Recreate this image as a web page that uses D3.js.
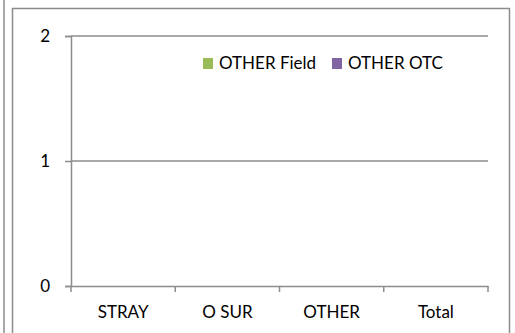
<!DOCTYPE html>
<html>
<head>
<meta charset="utf-8">
<script src="https://cdn.jsdelivr.net/npm/d3@7"></script>
<style>
	body { margin: 0; background: #fff; }
	svg text { font-family: Lato, "Liberation Sans", sans-serif; fill: #000; }
</style>
</head>
<body>
<script>
// chart data
var categories = ["STRAY", "O SUR", "OTHER", "Total"];
var seriesNames = ["OTHER Field", "OTHER OTC"];
var fieldValues = [0, 0, 0, 0];
var otcValues = [0, 0, 0, 0];
var yTicks = [0, 1, 2];

var colors = ["#9bbb59", "#8064a2"];

var svg = d3.select("body").append("svg")
	.attr("width", 515)
	.attr("height", 333);

// neighbour chart edge on the far left
svg.append("line")
	.attr("x1", 4).attr("x2", 4)
	.attr("y1", 0).attr("y2", 333)
	.attr("stroke", "#8c8c8c")
	.attr("stroke-width", 1.5);

// chart border
svg.append("rect")
	.attr("x", 12.5)
	.attr("y", 8.5)
	.attr("width", 497)
	.attr("height", 340)
	.attr("fill", "#fff")
	.attr("stroke", "#8c8c8c")
	.attr("stroke-width", 1.5);

var plot = {left: 71, right: 488, top: 36, bottom: 286};

var x = d3.scaleBand()
	.domain(categories)
	.range([plot.left, plot.right]);

var y = d3.scaleLinear()
	.domain([0, 2])
	.range([plot.bottom, plot.top]);

// gridlines
svg.append("g")
	.selectAll("line")
	.data(yTicks.filter(function(d){ return d > 0; }))
	.enter().append("line")
	.attr("x1", plot.left)
	.attr("x2", plot.right)
	.attr("y1", function(d){ return y(d); })
	.attr("y2", function(d){ return y(d); })
	.attr("stroke", "#8c8c8c")
	.attr("stroke-width", 1.5);

// bars (all zero)
var inner = d3.scaleBand()
	.domain(seriesNames)
	.range([0, x.bandwidth()])
	.paddingOuter(0.6);

var bars = svg.append("g");
[fieldValues, otcValues].forEach(function(vals, s){
	bars.selectAll(".s" + s)
		.data(vals)
		.enter().append("rect")
		.attr("class", "s" + s)
		.attr("x", function(d,i){ return x(categories[i]) + inner(seriesNames[s]); })
		.attr("width", inner.bandwidth())
		.attr("y", function(d){ return y(d); })
		.attr("height", function(d){ return y(0) - y(d); })
		.attr("fill", colors[s]);
});

// y axis
var yAxis = svg.append("g")
	.attr("transform", "translate(" + plot.left + ",0)")
	.call(d3.axisLeft(y).tickValues(yTicks).tickFormat(d3.format("d")).tickSize(6).tickPadding(15));
yAxis.selectAll("text").style("font-size", "17px");

// x axis
var xAxis = svg.append("g")
	.attr("transform", "translate(0," + plot.bottom + ")")
	.call(d3.axisBottom(x).tickSize(0).tickPadding(20));
xAxis.selectAll("text").style("font-size", "17px");

// category separators
xAxis.selectAll(".sep")
	.data(categories.concat(["end"]))
	.enter().append("line")
	.attr("class", "sep")
	.attr("x1", function(d,i){ return plot.left + i * x.step(); })
	.attr("x2", function(d,i){ return plot.left + i * x.step(); })
	.attr("y1", 0)
	.attr("y2", 6)
	.attr("stroke", "#8c8c8c")
	.attr("stroke-width", 1.5);

svg.selectAll(".domain, .tick line")
	.attr("stroke", "#8c8c8c")
	.attr("stroke-width", 1.5);

// legend
var legend = svg.append("g");
var legendX = [203, 332];
seriesNames.forEach(function(name, i){
	legend.append("rect")
		.attr("x", legendX[i])
		.attr("y", 58)
		.attr("width", 10)
		.attr("height", 11)
		.attr("fill", colors[i]);
	legend.append("text")
		.attr("x", legendX[i] + 16)
		.attr("y", 69)
		.style("font-size", "17px")
		.text(name);
});
</script>
</body>
</html>
